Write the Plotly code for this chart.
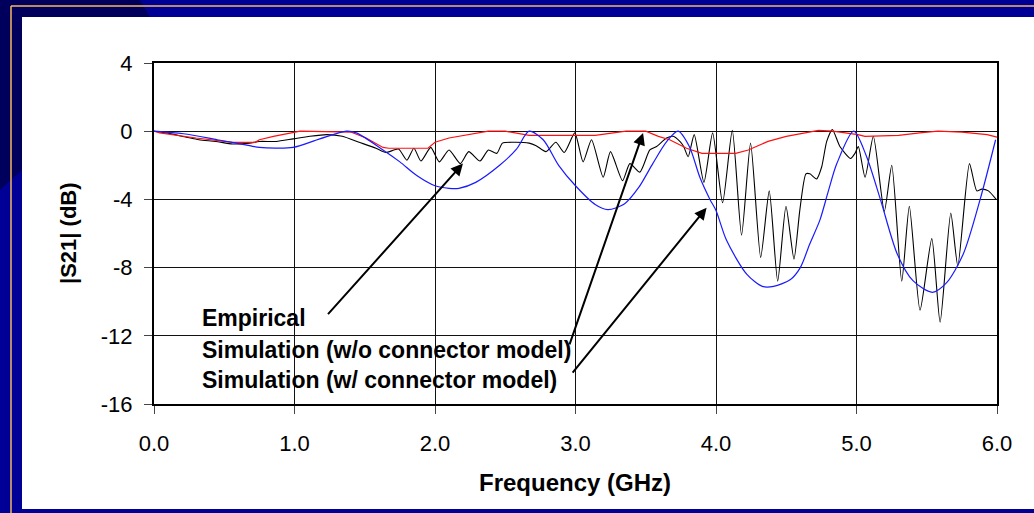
import plotly.graph_objects as go

# ---------------- data ----------------
emp_f = [0.0, 0.087, 0.23, 0.32, 0.44, 0.56, 0.68, 0.75, 0.87, 0.99, 1.11, 1.23, 1.34, 1.46,
         1.58, 1.65, 1.74, 1.80, 1.85, 1.90, 1.97, 2.03, 2.10, 2.18, 2.24, 2.32, 2.38, 2.44,
         2.48, 2.56, 2.67, 2.72, 2.79, 2.86, 2.92, 2.995, 3.054, 3.114, 3.197, 3.249, 3.335,
         3.387, 3.458, 3.529, 3.577, 3.648, 3.695, 3.743, 3.77, 3.802, 3.845, 3.914, 3.976,
         4.047, 4.116, 4.182, 4.246, 4.318, 4.379, 4.439, 4.498, 4.555, 4.597, 4.640, 4.668,
         4.716, 4.752, 4.788, 4.828, 4.882, 4.958, 4.989, 5.013, 5.061, 5.120, 5.198, 5.251,
         5.322, 5.376, 5.452, 5.536, 5.595, 5.671, 5.721, 5.804, 5.856, 5.891, 5.939, 5.994]
emp_db = [0.0, -0.1, -0.35, -0.5, -0.6, -0.75, -0.7, -0.6, -0.6, -0.45, -0.3, -0.2, -0.3, -0.65,
          -1.0, -1.25, -1.05, -1.7, -1.0, -1.75, -0.95, -1.8, -1.1, -1.9, -1.2, -1.75, -1.1, -1.3,
          -0.7, -0.65, -0.7, -0.85, -1.2, -0.65, -1.25, -0.1, -1.8, -0.5, -2.7, -1.2, -2.9,
          -1.9, -2.4, -1.1, -0.9, -0.4, -0.3, -0.6, -0.9, -1.5, -0.2, -3.0, -0.1,
          -4.2, 0.05, -6.1, -0.7, -7.4, -3.5, -8.8, -4.4, -7.5, -4.6, -2.5, -2.5,
          -2.8, -2.1, -0.6, 0.1, -0.9, -1.6, -1.3, -0.9, -2.7, -0.3, -4.7, -2.0,
          -8.8, -4.4, -10.5, -6.3, -11.2, -4.8, -7.9, -1.9, -3.5, -3.4, -3.5, -4.0]

wo_f = [0.0, 0.04, 0.3, 0.45, 0.56, 0.72, 0.75, 0.85, 0.97, 1.04, 1.40, 1.51, 1.63, 1.67, 1.95,
        2.0, 2.10, 2.27, 2.38, 2.5, 2.58, 2.67, 3.14, 3.30, 3.36, 3.50, 3.59, 3.67, 3.79, 3.90,
        4.14, 4.23, 4.37, 4.50, 4.64, 4.73, 4.83, 5.01, 5.06, 5.30, 5.45, 5.58, 5.75, 5.93, 6.0]
wo_db = [0.0, -0.1, -0.4, -0.55, -0.65, -0.65, -0.5, -0.3, -0.1, 0.0, -0.05, -0.4, -0.95, -1.0,
         -1.0, -0.65, -0.4, -0.15, 0.0, 0.0, -0.1, -0.25, -0.25, -0.1, 0.0, 0.0, -0.3, -0.5,
         -1.0, -1.3, -1.3, -1.1, -0.6, -0.3, -0.1, 0.05, 0.0, -0.2, -0.3, -0.25, -0.1, 0.0,
         -0.05, -0.2, -0.35]

w_f = [0.0, 0.21, 0.45, 0.68, 0.75, 0.99, 1.18, 1.37, 1.44, 1.63, 1.75, 1.87, 2.0, 2.1, 2.17,
       2.29, 2.46, 2.58, 2.67, 2.77, 2.88, 3.0, 3.14, 3.23, 3.35, 3.45, 3.55, 3.65, 3.73, 3.81,
       3.885, 3.957, 4.0, 4.075, 4.22, 4.33, 4.41, 4.53, 4.60, 4.668, 4.74, 4.80, 4.86, 4.98,
       5.07, 5.17, 5.29, 5.40, 5.54, 5.64, 5.76, 5.88, 5.99]
w_db = [0.0, -0.15, -0.5, -0.85, -0.95, -0.95, -0.45, 0.0, -0.1, -1.1, -1.8, -2.6, -3.2, -3.35,
        -3.35, -3.0, -2.0, -1.05, 0.0, -0.5, -2.0, -3.2, -4.3, -4.6, -4.25, -3.3, -1.9, -0.6,
        0.0, -0.9, -2.7, -4.0, -4.65, -6.4, -8.4, -9.1, -9.1, -8.7, -8.0, -6.6, -5.2, -3.5,
        -1.9, 0.0, -1.45, -4.0, -7.2, -8.75, -9.45, -8.9, -7.2, -4.0, -0.5]

x_ticks = [0, 1, 2, 3, 4, 5, 6]
x_tick_text = ["0.0", "1.0", "2.0", "3.0", "4.0", "5.0", "6.0"]
y_ticks = [4, 0, -4, -8, -12, -16]
y_tick_text = ["4", "0", "-4", "-8", "-12", "-16"]

labels = ["Empirical", "Simulation (w/o connector model)", "Simulation (w/ connector model)"]
x_title = "Frequency (GHz)"
y_title = "|S21| (dB)"

# ---------------- layout geometry ----------------
W, H = 1034, 513
ML, MR, MT, MB = 154, 37, 63, 109
PW, PH = W - ML - MR, H - MT - MB


def pxx(px):
    return (px - ML) / PW


def pxy(py):
    return (H - MB - py) / PH


FONT = "Liberation Sans, Arial, sans-serif"

fig = go.Figure()
fig.add_trace(go.Scatter(x=emp_f, y=emp_db, mode="lines", name=labels[0],
                         line=dict(color="black", width=1.1, shape="spline", smoothing=0.6)))
fig.add_trace(go.Scatter(x=wo_f, y=wo_db, mode="lines", name=labels[1],
                         line=dict(color="#ff1010", width=1.2)))
fig.add_trace(go.Scatter(x=w_f, y=w_db, mode="lines", name=labels[2],
                         line=dict(color="#1a1aff", width=1.2, shape="spline", smoothing=0.8)))

shapes = [
    # darker slide corner
    dict(type="path", xref="paper", yref="paper", layer="below",
         path="M %f,%f L %f,%f L %f,%f L %f,%f L %f,%f L %f,%f Z" % (
             pxx(0), pxy(0), pxx(140), pxy(0), pxx(150), pxy(17), pxx(22), pxy(17),
             pxx(22), pxy(170), pxx(0), pxy(190)),
         fillcolor="#00005c", line=dict(width=0)),
    # white slide panel
    dict(type="rect", xref="paper", yref="paper", layer="below",
         x0=pxx(22), x1=pxx(1040), y0=pxy(509), y1=pxy(17),
         fillcolor="white", line=dict(width=0)),
    # gold frame lines
    dict(type="line", xref="paper", yref="paper", layer="below",
         x0=pxx(11), x1=pxx(1040), y0=pxy(6), y1=pxy(6),
         line=dict(color="#f4b860", width=1.5)),
    dict(type="line", xref="paper", yref="paper", layer="below",
         x0=pxx(11), x1=pxx(11), y0=pxy(6), y1=pxy(520),
         line=dict(color="#f4b860", width=1.5)),
]

annotations = []
# series labels
for lab, py in zip(labels, [318, 349.5, 380]):
    annotations.append(dict(text="<b>%s</b>" % lab, xref="paper", yref="paper",
                            x=pxx(200), y=pxy(py), xanchor="left", yanchor="middle",
                            showarrow=False, font=dict(family=FONT, size=23, color="black")))
# arrows
arrows = [((2.199, -1.90), (1.229, -10.82)),
          ((3.481, -0.10), (2.954, -12.59)),
          ((3.933, -4.49), (2.971, -14.25))]
for (tx, ty), (sx, sy) in arrows:
    annotations.append(dict(x=tx, y=ty, ax=sx, ay=sy, xref="x", yref="y", axref="x", ayref="y",
                            text="", showarrow=True, arrowhead=2, arrowsize=1.2,
                            arrowwidth=2, arrowcolor="black", standoff=0))
# axis titles
annotations.append(dict(text="<b>%s</b>" % x_title, xref="paper", yref="paper",
                        x=pxx(575), y=pxy(482), xanchor="center", yanchor="middle",
                        showarrow=False, font=dict(family=FONT, size=24, color="black")))
annotations.append(dict(text="<b>%s</b>" % y_title, xref="paper", yref="paper",
                        x=pxx(68), y=pxy(233), xanchor="center", yanchor="middle",
                        textangle=-90, showarrow=False,
                        font=dict(family=FONT, size=22, color="black")))

fig.update_layout(
    width=W, height=H,
    margin=dict(l=ML, r=MR, t=MT, b=MB),
    paper_bgcolor="#000096",
    plot_bgcolor="white",
    showlegend=False,
    shapes=shapes,
    annotations=annotations,
    font=dict(family=FONT, size=22, color="black"),
)
fig.update_xaxes(range=[0, 6], tickvals=x_ticks, ticktext=x_tick_text,
                 showgrid=True, gridcolor="#111111", gridwidth=1,
                 showline=True, linecolor="black", linewidth=2, mirror=True,
                 ticks="outside", ticklen=8, tickcolor="#444444", tickwidth=1,
                 zeroline=False, tickfont=dict(family=FONT, size=22, color="black"),
                 ticklabelstandoff=11)
fig.update_yaxes(range=[-16, 4], tickvals=y_ticks, ticktext=y_tick_text,
                 showgrid=True, gridcolor="#111111", gridwidth=1,
                 showline=True, linecolor="black", linewidth=2, mirror=True,
                 ticks="outside", ticklen=8, tickcolor="#444444", tickwidth=1,
                 zeroline=False, tickfont=dict(family=FONT, size=22, color="black"),
                 ticklabelstandoff=7)

fig.write_html("out.html", config={"displayModeBar": False})
